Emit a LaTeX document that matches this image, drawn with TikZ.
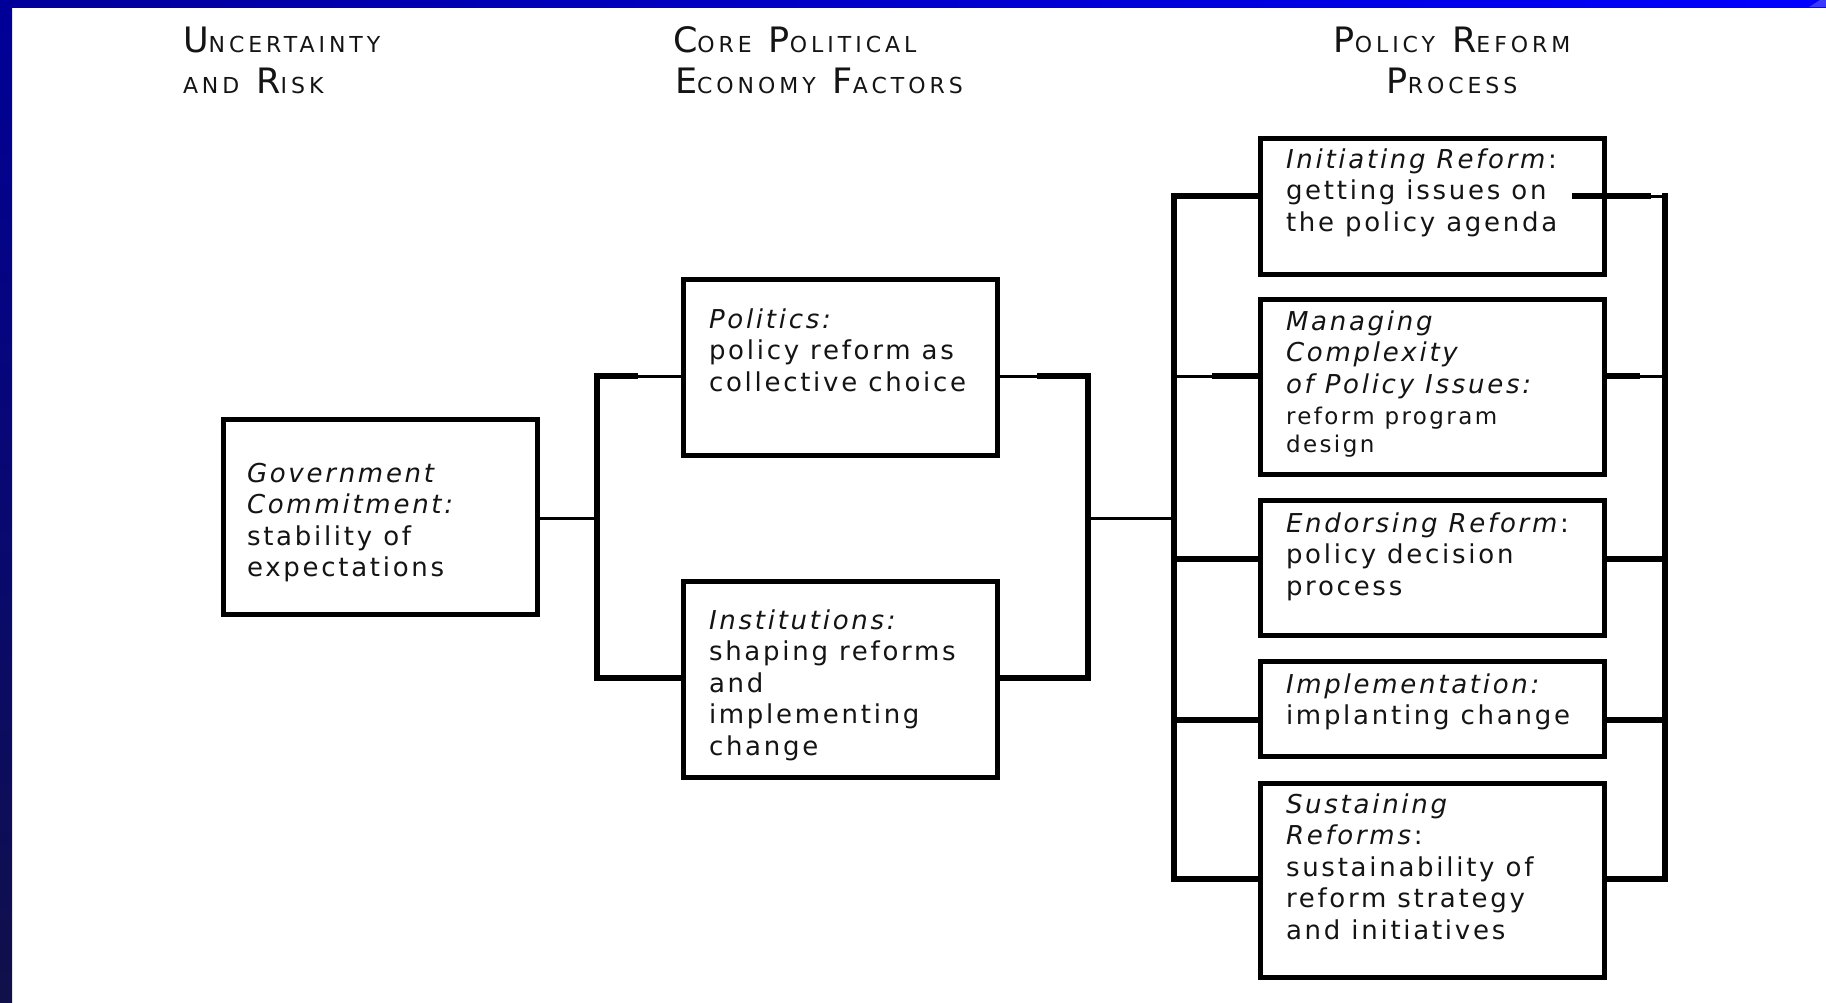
\documentclass[tikz,border=0pt]{standalone}
\usepackage{fontspec}
\setmainfont{DejaVu Sans}[LetterSpace=10.5]
\newfontfamily\hdrfont{DejaVu Sans}[LetterSpace=18]
\newcommand\HdrSC[2]{{\fontsize{35}{40}\selectfont #1}{\fontsize{22}{40}\selectfont #2}}
\definecolor{frameA}{RGB}{0,0,153}
\definecolor{frameB}{RGB}{0,0,255}
\definecolor{frameC}{RGB}{5,5,138}
\definecolor{frameD}{RGB}{16,16,74}
\definecolor{frameE}{RGB}{58,58,255}
\definecolor{inkc}{RGB}{20,20,20}
\tikzset{
  boxn/.style={draw=black, line width=5.5pt, inner sep=0pt, outer sep=0pt},
  txt/.style={anchor=north west, inner sep=0pt, outer sep=0pt, align=left, text=inkc,
              font=\fontsize{26}{31.5}\selectfont},
  txtsmall/.style={anchor=north west, inner sep=0pt, outer sep=0pt, align=left, text=inkc,
              font=\fontsize{23}{28}\selectfont},
  hdr/.style={inner sep=0pt, outer sep=0pt, text=inkc, font=\hdrfont},
  thickln/.style={draw=black, line width=5.5pt, line join=miter, line cap=rect},
  thinln/.style={draw=black, line width=3pt, line cap=butt},
}
\newcommand\FL{\rule{0pt}{20pt}}
\begin{document}
\begin{tikzpicture}[x=1pt,y=-1pt]
\useasboundingbox (0,0) rectangle (1826,1002);
\fill[white] (0,0) rectangle (1826,1002);
% frame
\shade[left color=frameA, right color=frameB] (0,0) rectangle (1826,7);
\fill[frameE] (1809,7) -- (1826,7) -- (1826,0) -- (1820,0) -- cycle;
\shade[top color=frameA, middle color=frameC, bottom color=frameD] (0,0) rectangle (12,1002);

% headers
\node[hdr, anchor=base west] (h1a) at (183,52) {\HdrSC{U}{NCERTAINTY}};
\node[hdr, anchor=base west] (h1b) at (183,93) {\HdrSC{}{AND}\hspace{17pt}\HdrSC{R}{ISK}};
\node[hdr, anchor=base west] (h2a) at (673,52) {\HdrSC{C}{ORE}\hspace{17pt}\HdrSC{P}{OLITICAL}};
\node[hdr, anchor=base west] (h2b) at (675,93) {\HdrSC{E}{CONOMY}\hspace{17pt}\HdrSC{F}{ACTORS}};
\node[hdr, anchor=base] (h3a) at (1452,52) {\HdrSC{P}{OLICY}\hspace{17pt}\HdrSC{R}{EFORM}};
\node[hdr, anchor=base] (h3b) at (1452,93) {\HdrSC{P}{ROCESS}};

% boxes
\node[boxn, minimum width=314pt, minimum height=195pt] (gov) at (380.5,517) {};
\node[boxn, minimum width=314pt, minimum height=176pt] (pol) at (840.5,367.5) {};
\node[boxn, minimum width=314pt, minimum height=196pt] (inst) at (840.5,679.5) {};
\node[boxn, minimum width=344pt, minimum height=136pt] (init) at (1432.5,206.5) {};
\node[boxn, minimum width=344pt, minimum height=175pt] (manag) at (1432.5,387) {};
\node[boxn, minimum width=344pt, minimum height=135pt] (endors) at (1432.5,568) {};
\node[boxn, minimum width=344pt, minimum height=95pt] (impl) at (1432.5,709) {};
\node[boxn, minimum width=344pt, minimum height=194pt] (sust) at (1432.5,880.5) {};

% texts (first baseline = y + 20)
\node[txt] (govt) at (247,462) {\FL\textit{Government}\\\textit{Commitment:}\\stability of\\expectations};
\node[txt] (polt) at (709,308) {\FL\textit{Politics:}\\policy reform as\\collective choice};
\node[txt] (instt) at (709,609) {\FL\textit{Institutions:}\\shaping reforms\\and\\implementing\\change};
\node[txt] (initt) at (1286,148) {\FL\textit{Initiating Reform}:\\getting issues on\\the policy agenda};
\node[txt] (managt) at (1286,310) {\FL\textit{Managing}\\\textit{Complexity}\\\textit{of Policy Issues:}};
\node[txtsmall] (managt2) at (1286,406.5) {\rule{0pt}{18pt}reform program\\design};
\node[txt] (endorst) at (1286,512) {\FL\textit{Endorsing Reform}:\\policy decision\\process};
\node[txt] (implt) at (1286,673) {\FL\textit{Implementation:}\\implanting change};
\node[txt] (sustt) at (1286,793) {\FL\textit{Sustaining}\\\textit{Reforms}:\\sustainability of\\reform strategy\\and initiatives};

% left bracket
\coordinate (lbT) at (597,376);
\coordinate (lbTk) at (635,376);
\coordinate (lbM) at (597,518);
\coordinate (lbB) at (597,678);
\draw[thinln] (gov.east |- lbM) -- (lbM);
\draw[thinln] (lbTk) -- (pol.west |- lbT);
\draw[thickln] (lbTk) -- (lbT) -- (lbB) -- (inst.west |- lbB);

% right bracket of core factors
\coordinate (rbT) at (1088,376);
\coordinate (rbTk) at (1040,376);
\coordinate (rbM) at (1088,518);
\coordinate (rbB) at (1088,678);
\coordinate (cbM) at (1174,518);
\draw[thinln] (pol.east |- rbT) -- (rbTk);
\draw[thickln] (rbTk) -- (rbT) -- (rbB) -- (inst.east |- rbB);
\draw[thinln] (rbM) -- (cbM);

% left bracket of process column
\coordinate (cbT) at (1174,196);
\coordinate (cbMg) at (1174,376);
\coordinate (cbMgk) at (1215,376);
\coordinate (cbE) at (1174,559);
\coordinate (cbI) at (1174,720);
\coordinate (cbB) at (1174,879);
\draw[thickln] (init.west |- cbT) -- (cbT) -- (cbB) -- (sust.west |- cbB);
\draw[thinln] (cbMg) -- (cbMgk);
\draw[thickln] (cbMgk) -- (manag.west |- cbMgk);
\draw[thickln] (cbE) -- (endors.west |- cbE);
\draw[thickln] (cbI) -- (impl.west |- cbI);

% right bracket of process column
\coordinate (rcT) at (1665,196);
\coordinate (rcTk) at (1648,196);
\coordinate (initIn) at (1575,196);
\coordinate (rcMg) at (1665,376);
\coordinate (rcMgk) at (1637,376);
\coordinate (rcE) at (1665,559);
\coordinate (rcI) at (1665,720);
\coordinate (rcB) at (1665,879);
\draw[thickln] (initIn) -- (rcTk);
\draw[thinln] (rcTk) -- (rcT);
\draw[thickln] (rcT) -- (rcB) -- (sust.east |- rcB);
\draw[thickln] (manag.east |- rcMgk) -- (rcMgk);
\draw[thinln] (rcMgk) -- (rcMg);
\draw[thickln] (endors.east |- rcE) -- (rcE);
\draw[thickln] (impl.east |- rcI) -- (rcI);
\end{tikzpicture}
\end{document}
